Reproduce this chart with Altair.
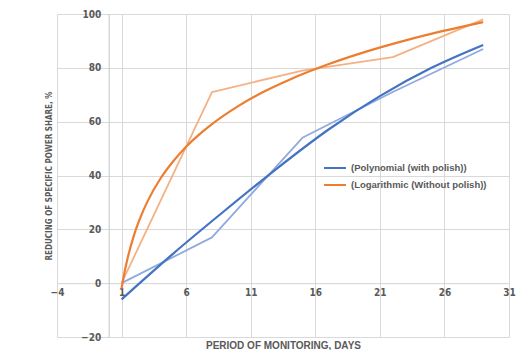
import altair as alt
import pandas as pd

# Measured (raw) series
days = [1, 8, 15, 22, 29]
polish_raw = [0, 17, 54, 71, 87]
nopolish_raw = [0, 71, 79, 84, 98]

# Trendlines
poly_x = [1, 5, 9, 13, 17, 21, 25, 29]
poly_y = [-6, 11, 27, 42.5, 57, 69.5, 80, 88.5]
log_x = [1, 1.25, 1.5, 2, 2.5, 3, 4, 5, 6, 7, 8, 10, 12, 14, 17, 20, 23, 26, 29]
log_y = [-2, 4.6, 9.9, 18.4, 24.9, 30.3, 38.8, 45.3, 50.7, 55.2, 59.1, 65.7,
         71.1, 75.6, 81.3, 86.1, 90.2, 93.8, 97.0]

series_names = ["(Polynomial (with polish))", " (Logarithmic (Without polish))"]
trend_colors = ["#4472C4", "#ED7D31"]
raw_colors = ["#8FAADC", "#F4B183"]
x_ticks = [-4, 1, 6, 11, 16, 21, 26, 31]
y_ticks = [-20, 0, 20, 40, 60, 80, 100]

W, H = 452, 323
LEFT = 49
NARROW = "Liberation Sans Narrow, DejaVu Sans Condensed, Arial Narrow, sans-serif"
REG = "Liberation Sans, Arial, sans-serif"
GREY = "#595959"

raw_df = pd.concat([
    pd.DataFrame({"day": days, "val": polish_raw, "s": "raw_p"}),
    pd.DataFrame({"day": days, "val": nopolish_raw, "s": "raw_l"}),
])
trend_df = pd.concat([
    pd.DataFrame({"day": poly_x, "val": poly_y, "series": series_names[0]}),
    pd.DataFrame({"day": log_x, "val": log_y, "series": series_names[1]}),
])

xscale = alt.Scale(domain=[-4, 31], nice=False, zero=False)
yscale = alt.Scale(domain=[-20, 100], nice=False, zero=False)

x_off = W * 4 / 35
y_off = H * 100 / 120

xaxis = alt.Axis(values=x_ticks, grid=True, gridColor="#d9d9d9", domainColor="#d9d9d9",
                 ticks=False, labelPadding=4, offset=-(H - y_off), labelFlush=False,
                 labelOverlap=False, labelFont=NARROW, labelFontSize=10, labelFontWeight="bold",
                 labelColor=GREY, title="PERIOD OF MONITORING, DAYS", titleFont=REG,
                 titleFontSize=10, titleFontWeight="bold", titleColor=GREY,
                 titleX=W / 2, titleY=345 - 14 - y_off, titleBaseline="middle", titleAlign="center")
yaxis = alt.Axis(values=y_ticks, grid=True, gridColor="#d9d9d9", domainColor="#c4c4c4",
                 ticks=False, labelPadding=8, offset=-x_off, labelFlush=False,
                 labelOverlap=False, labelFont=NARROW, labelFontSize=10, labelFontWeight="bold",
                 labelColor=GREY, title="REDUCING OF SPECIFIC POWER SHARE, %", titleFont=NARROW,
                 titleFontSize=8, titleFontWeight="bold", titleColor=GREY,
                 titleX=49 - (8 + LEFT) - x_off, titleY=H / 2, titleBaseline="middle",
                 titleAlign="center", titleAngle=270)

raw_p = alt.Chart(raw_df).transform_filter(alt.datum.s == "raw_p").mark_line(
    color=raw_colors[0], strokeWidth=1.8, strokeJoin="round").encode(
    x=alt.X("day:Q", scale=xscale, axis=xaxis),
    y=alt.Y("val:Q", scale=yscale, axis=yaxis),
)
raw_l = alt.Chart(raw_df).transform_filter(alt.datum.s == "raw_l").mark_line(
    color=raw_colors[1], strokeWidth=1.8, strokeJoin="round").encode(
    x=alt.X("day:Q", scale=xscale),
    y=alt.Y("val:Q", scale=yscale),
)
trend = alt.Chart(trend_df).mark_line(strokeWidth=2.2, interpolate="monotone").encode(
    x=alt.X("day:Q", scale=xscale),
    y=alt.Y("val:Q", scale=yscale),
    color=alt.Color("series:N", scale=alt.Scale(domain=series_names, range=trend_colors),
                    legend=alt.Legend(orient="none", legendX=266, legendY=142, title=None,
                                      symbolType="stroke", symbolSize=484, symbolStrokeWidth=2,
                                      labelFont=REG, labelFontSize=9.5, labelFontWeight="bold",
                                      labelColor=GREY, labelOffset=4, rowPadding=-8, padding=0,
                                      offset=0)),
    detail="series:N",
)

chart = alt.layer(raw_p, raw_l, trend).properties(
    width=W, height=H,
    autosize=alt.AutoSizeParams(type="none"),
    padding={"left": LEFT, "top": 6, "right": 7, "bottom": 13},
    background="white",
).configure_view(stroke=None)

chart.save("out.html", embed_options={"renderer": "svg", "actions": False})
